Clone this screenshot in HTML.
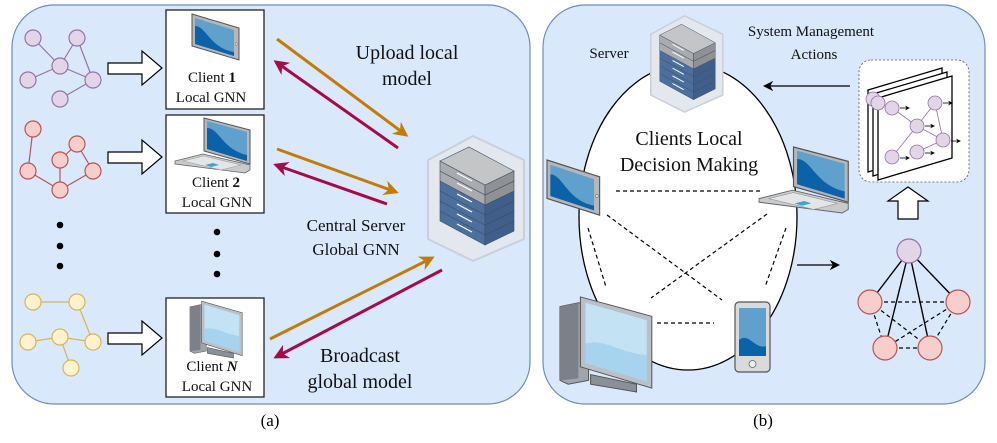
<!DOCTYPE html>
<html><head><meta charset="utf-8"><style>
html,body{margin:0;padding:0;background:#fff;}
svg{display:block;}
svg text{font-family:"Liberation Serif","DejaVu Serif","Times New Roman",serif !important;}
</style></head><body>
<svg width="997" height="443" viewBox="0 0 997 443" xmlns="http://www.w3.org/2000/svg" style="font-family:'Liberation Serif','DejaVu Serif',serif">
<defs>
  <marker id="ao" viewBox="0 0 10 10" refX="8" refY="5" markerWidth="5" markerHeight="5" orient="auto"><path d="M0,0 L10,5 L0,10 L3,5 z" fill="#c37b06"/></marker>
  <marker id="ar" viewBox="0 0 10 10" refX="8" refY="5" markerWidth="5" markerHeight="5" orient="auto"><path d="M0,0 L10,5 L0,10 L3,5 z" fill="#a50b45"/></marker>
  <marker id="ak" viewBox="0 0 10 10" refX="8" refY="5" markerWidth="6" markerHeight="6" orient="auto"><path d="M0,0 L10,5 L0,10 L3,5 z" fill="#000"/></marker>
  <marker id="ak2" viewBox="0 0 10 10" refX="8" refY="5" markerWidth="8" markerHeight="8" orient="auto"><path d="M0,0 L10,5 L0,10 L3,5 z" fill="#000"/></marker>
  <g id="tablet">
    <polygon points="0,0 47,14 47,46 0,32" fill="#b5b7ba" stroke="#555" stroke-width="1"/>
    <polygon points="3,4 42,16 42,42 3,30" fill="#5fa0cc"/>
    <path d="M3,12 C14,12 18,34 42,38 L42,42 L3,30 z" fill="#0b62a8"/>
    <circle cx="44.5" cy="30" r="1.3" fill="#ddd" stroke="#777" stroke-width="0.5"/>
  </g>
  <g id="laptop">
    <polygon points="29,0 75,12 75,46 29,33" fill="#b5b7ba" stroke="#555" stroke-width="1"/>
    <polygon points="32,3 72,14 72,43 32,31" fill="#5fa0cc"/>
    <path d="M32,10 C44,10 48,32 72,37 L72,43 L32,31 z" fill="#0b62a8"/>
    <polygon points="0,43 28,36 75,47 75,52 70,55 0,46" fill="#c9cacc" stroke="#666" stroke-width="0.8"/>
    <polygon points="8,43 29,38 66,47 46,52" fill="#e4e5e6" stroke="#999" stroke-width="0.5"/>
    <polygon points="30,47 38,45 44,47 36,49" fill="#3ba4d8"/>
  </g>
  <g id="desktop">
    <polygon points="0,12 18,8 28,10 28,88 8,92 0,88" fill="#9fa5ad" stroke="#555" stroke-width="1"/>
    <polygon points="0,12 18,8 18,86 0,88" fill="#7c8189"/>
    <polygon points="30,82 75,92 75,100 30,92" fill="#8a9097" stroke="#555" stroke-width="1"/>
    <polygon points="20,2 90,22 90,96 20,74" fill="#b9c0c9" stroke="#555" stroke-width="1"/>
    <polygon points="25,8 85,26 85,89 25,70" fill="#c3e2f4"/>
    <path d="M25,50 C45,45 60,60 85,62 L85,89 L25,70 z" fill="#a6d3ee"/>
  </g>
  <g id="phone">
    <rect x="0" y="0" width="35" height="70" rx="4" fill="#d9dadb" stroke="#555" stroke-width="1.2"/>
    <rect x="4" y="6" width="27" height="48" fill="#5fa0cc"/>
    <path d="M4,38 C14,30 20,48 31,44 L31,54 L4,54 z" fill="#0b62a8"/>
    <circle cx="17.5" cy="62" r="3.5" fill="#eee" stroke="#666" stroke-width="0.8"/>
  </g>
  <g id="server">
    <polygon points="46,1 97,25 97,104 46,126 1,104 1,25" fill="#e3e7ee" stroke="#c9d0da" stroke-width="2" stroke-linejoin="round"/>
    <g transform="translate(0,14)">
    <g stroke="#3c4f66" stroke-width="0.6">
      <polygon points="13,62 58,86 58,96 13,72" fill="#4c6f9e"/><polygon points="58,86 87,72 87,82 58,96" fill="#3f5f8a"/>
      <polygon points="13,52 58,76 58,86 13,62" fill="#4c6f9e"/><polygon points="58,76 87,62 87,72 58,86" fill="#3f5f8a"/>
      <polygon points="13,42 58,66 58,76 13,52" fill="#4c6f9e"/><polygon points="58,66 87,52 87,62 58,76" fill="#3f5f8a"/>
      <polygon points="13,32 58,56 58,66 13,42" fill="#4c6f9e"/><polygon points="58,56 87,42 87,52 58,66" fill="#3f5f8a"/>
      <polygon points="13,22 58,46 58,56 13,32" fill="#a9abae"/><polygon points="58,46 87,32 87,42 58,56" fill="#8f9194"/>
      <polygon points="13,12 58,36 58,46 13,22" fill="#a9abae"/><polygon points="58,36 87,22 87,32 58,46" fill="#8f9194"/>
      <polygon points="13,12 42,-2 87,22 58,36" fill="#c4c5c7"/>
    </g>
    <g stroke="#fff" stroke-width="1.2">
      <line x1="30" y1="24" x2="45" y2="32"/><line x1="30" y1="34" x2="45" y2="42"/>
      <line x1="30" y1="45" x2="45" y2="53"/><line x1="30" y1="55" x2="45" y2="63"/>
      <line x1="30" y1="65" x2="45" y2="73"/><line x1="30" y1="75" x2="45" y2="83"/>
    </g>
    </g>
  </g>
</defs>

<rect x="12" y="5" width="518" height="399" rx="42" fill="#dae8fc" stroke="#6c8ebf" stroke-width="1.2"/>
<rect x="543" y="5" width="442" height="399" rx="42" fill="#dae8fc" stroke="#6c8ebf" stroke-width="1.2"/>

<g stroke="#9673a6" stroke-width="1.2" fill="#e1d5e7">
  <line x1="33" y1="38" x2="60" y2="66"/><line x1="77" y1="38" x2="60" y2="66"/><line x1="77" y1="38" x2="93" y2="80"/>
  <line x1="60" y1="66" x2="28" y2="80"/><line x1="60" y1="66" x2="93" y2="80"/><line x1="93" y1="80" x2="60" y2="99"/>
  <circle cx="33" cy="38" r="8"/><circle cx="77" cy="38" r="8"/><circle cx="60" cy="66" r="8"/>
  <circle cx="28" cy="80" r="8"/><circle cx="93" cy="80" r="8"/><circle cx="60" cy="99" r="8"/>
</g>
<g stroke="#b85450" stroke-width="1.2" fill="#f8cecc">
  <line x1="33" y1="129" x2="28" y2="171"/><line x1="28" y1="171" x2="60" y2="190"/><line x1="60" y1="190" x2="93" y2="171"/>
  <line x1="93" y1="171" x2="77" y2="144"/><line x1="77" y1="144" x2="60" y2="160"/><line x1="60" y1="160" x2="60" y2="190"/>
  <circle cx="33" cy="129" r="8"/><circle cx="77" cy="144" r="8"/><circle cx="60" cy="160" r="8"/>
  <circle cx="28" cy="171" r="8"/><circle cx="93" cy="171" r="8"/><circle cx="60" cy="190" r="8"/>
</g>
<g stroke="#d6b656" stroke-width="1.2" fill="#fff2cc">
  <line x1="33" y1="302" x2="77" y2="302"/><line x1="77" y1="302" x2="93" y2="342"/><line x1="28" y1="342" x2="60" y2="337"/>
  <line x1="60" y1="337" x2="93" y2="342"/><line x1="60" y1="337" x2="71" y2="368"/>
  <circle cx="33" cy="302" r="8"/><circle cx="77" cy="302" r="8"/><circle cx="60" cy="337" r="8"/>
  <circle cx="28" cy="342" r="8"/><circle cx="93" cy="342" r="8"/><circle cx="71" cy="368" r="8"/>
</g>
<g fill="#000"><circle cx="60" cy="225" r="3.3"/><circle cx="60" cy="246" r="3.3"/><circle cx="60" cy="266" r="3.3"/>
<circle cx="217" cy="232" r="3.3"/><circle cx="217" cy="254" r="3.3"/><circle cx="217" cy="274" r="3.3"/></g>

<g fill="#fff" stroke="#000" stroke-width="1.2">
  <polygon points="108,63 142,63 142,51 162,68 142,85 142,74 108,74"/>
  <polygon points="108,152 142,152 142,140 162,157 142,174 142,163 108,163"/>
  <polygon points="108,333 142,333 142,321 162,338 142,355 142,344 108,344"/>
</g>

<g fill="#fff" stroke="#222" stroke-width="1.3">
  <rect x="166" y="10" width="98" height="99"/>
  <rect x="166" y="115" width="98" height="98"/>
  <rect x="166" y="298" width="98" height="99"/>
</g>
<use href="#tablet" x="192" y="14"/>
<use href="#laptop" x="175" y="118"/>
<use href="#desktop" transform="translate(190,300) scale(0.58)"/>
<g font-size="15" text-anchor="middle" fill="#111">
  <text x="212" y="82">Client <tspan font-weight="bold">1</tspan></text>
  <text x="211" y="102">Local GNN</text>
  <text x="216" y="187">Client <tspan font-weight="bold">2</tspan></text>
  <text x="217" y="207">Local GNN</text>
  <text x="212" y="371">Client <tspan font-weight="bold" font-style="italic">N</tspan></text>
  <text x="217" y="391">Local GNN</text>
</g>

<g stroke-width="3" fill="none">
  <line x1="277" y1="39" x2="406" y2="135" stroke="#c37b06" marker-end="url(#ao)"/>
  <line x1="398" y1="148" x2="276" y2="62" stroke="#a50b45" marker-end="url(#ar)"/>
  <line x1="277" y1="149" x2="396" y2="192" stroke="#c37b06" marker-end="url(#ao)"/>
  <line x1="387" y1="204" x2="276" y2="165" stroke="#a50b45" marker-end="url(#ar)"/>
  <line x1="270" y1="339" x2="432" y2="258" stroke="#c37b06" marker-end="url(#ao)"/>
  <line x1="442" y1="270" x2="276" y2="357" stroke="#a50b45" marker-end="url(#ar)"/>
</g>
<use href="#server" transform="translate(427,135)"/>
<g font-size="20" text-anchor="middle" fill="#111">
  <text x="407" y="59">Upload local</text>
  <text x="407" y="85">model</text>
  <text x="360" y="362">Broadcast</text>
  <text x="360" y="388">global model</text>
</g>
<g font-size="17" text-anchor="middle" fill="#111">
  <text x="356" y="231">Central Server</text>
  <text x="356" y="255">Global GNN</text>
</g>
<text x="270" y="426" font-size="17" text-anchor="middle">(a)</text>

<ellipse cx="688" cy="217" rx="109" ry="153" fill="#fff" stroke="#000" stroke-width="1.3"/>
<g stroke="#000" stroke-width="1.2" stroke-dasharray="4,3">
  <line x1="616" y1="191" x2="760" y2="191"/>
  <line x1="607" y1="215" x2="722" y2="300"/>
  <line x1="767" y1="214" x2="651" y2="298"/>
  <line x1="588" y1="228" x2="606" y2="287"/>
  <line x1="786" y1="228" x2="765" y2="287"/>
  <line x1="657" y1="323" x2="714" y2="323"/>
</g>
<use href="#server" transform="translate(650,15) scale(0.75,0.77)"/>
<use href="#tablet" transform="translate(547,160) scale(1.12,1.2)"/>
<use href="#laptop" transform="translate(759,147) scale(1.19,1.2)"/>
<use href="#desktop" transform="translate(560,295) scale(1.02,0.97)"/>
<use href="#phone" transform="translate(735,302)"/>
<g font-size="20" text-anchor="middle" fill="#111">
  <text x="689" y="145">Clients Local</text>
  <text x="689" y="171">Decision Making</text>
</g>
<g font-size="15" text-anchor="middle" fill="#111">
  <text x="609" y="58">Server</text>
  <text x="811" y="36">System Management</text>
  <text x="814" y="59">Actions</text>
</g>
<line x1="850" y1="86" x2="765" y2="86" stroke="#000" stroke-width="1.3" marker-end="url(#ak2)"/>
<line x1="797" y1="265" x2="838" y2="265" stroke="#000" stroke-width="1.3" marker-end="url(#ak2)"/>

<rect x="859" y="60" width="110" height="122" rx="12" fill="#fff" stroke="#555" stroke-width="0.8" stroke-dasharray="2,2"/>
<g fill="#fff" stroke="#000" stroke-width="1.3">
  <polygon points="868,90 942,68 942,150 868,172"/>
  <polygon points="873,94 947,72 947,154 873,176"/>
  <polygon points="878,98 952,76 952,158 878,180"/>
</g>
<g stroke="#9673a6" stroke-width="0.8" fill="#e1d5e7">
  <circle cx="873" cy="99" r="7"/><circle cx="878" cy="103" r="7"/>
  <line x1="892" y1="108" x2="917" y2="126"/><line x1="935" y1="103" x2="917" y2="126"/><line x1="935" y1="103" x2="943" y2="140"/>
  <line x1="917" y1="126" x2="943" y2="140"/><line x1="917" y1="126" x2="892" y2="157"/><line x1="943" y1="140" x2="917" y2="152"/>
  <circle cx="892" cy="108" r="7"/><circle cx="935" cy="103" r="7"/><circle cx="917" cy="126" r="7"/>
  <circle cx="943" cy="140" r="7"/><circle cx="892" cy="157" r="7"/><circle cx="917" cy="152" r="7"/>
</g>
<g stroke="#000" stroke-width="0.8" marker-end="url(#ak)">
  <line x1="900" y1="108" x2="909" y2="108"/><line x1="943" y1="103" x2="952" y2="103"/>
  <line x1="925" y1="126" x2="934" y2="126"/><line x1="951" y1="141" x2="960" y2="141"/>
  <line x1="900" y1="158" x2="909" y2="158"/><line x1="925" y1="153" x2="934" y2="153"/>
</g>
<polygon points="908,187 928,201 918,201 918,219 898,219 898,201 888,201" fill="#fff" stroke="#000" stroke-width="1.2"/>

<g stroke="#000" stroke-width="1.2" stroke-dasharray="4,3">
  <line x1="870" y1="302" x2="958" y2="302"/><line x1="885" y1="348" x2="930" y2="348"/>
  <line x1="870" y1="302" x2="885" y2="348"/><line x1="870" y1="302" x2="930" y2="348"/>
  <line x1="958" y1="302" x2="885" y2="348"/><line x1="958" y1="302" x2="930" y2="348"/>
</g>
<g stroke="#000" stroke-width="1.4">
  <line x1="909" y1="251" x2="870" y2="302"/><line x1="909" y1="251" x2="958" y2="302"/>
  <line x1="909" y1="251" x2="885" y2="348"/><line x1="909" y1="251" x2="930" y2="348"/>
</g>
<circle cx="909" cy="251" r="12" fill="#e1d5e7" stroke="#9673a6" stroke-width="1.2"/>
<g fill="#f8cecc" stroke="#b85450" stroke-width="1.2">
  <circle cx="870" cy="302" r="12"/><circle cx="958" cy="302" r="12"/>
  <circle cx="885" cy="348" r="12"/><circle cx="930" cy="348" r="12"/>
</g>
<text x="763" y="426" font-size="17" text-anchor="middle">(b)</text>
</svg>
</body></html>
